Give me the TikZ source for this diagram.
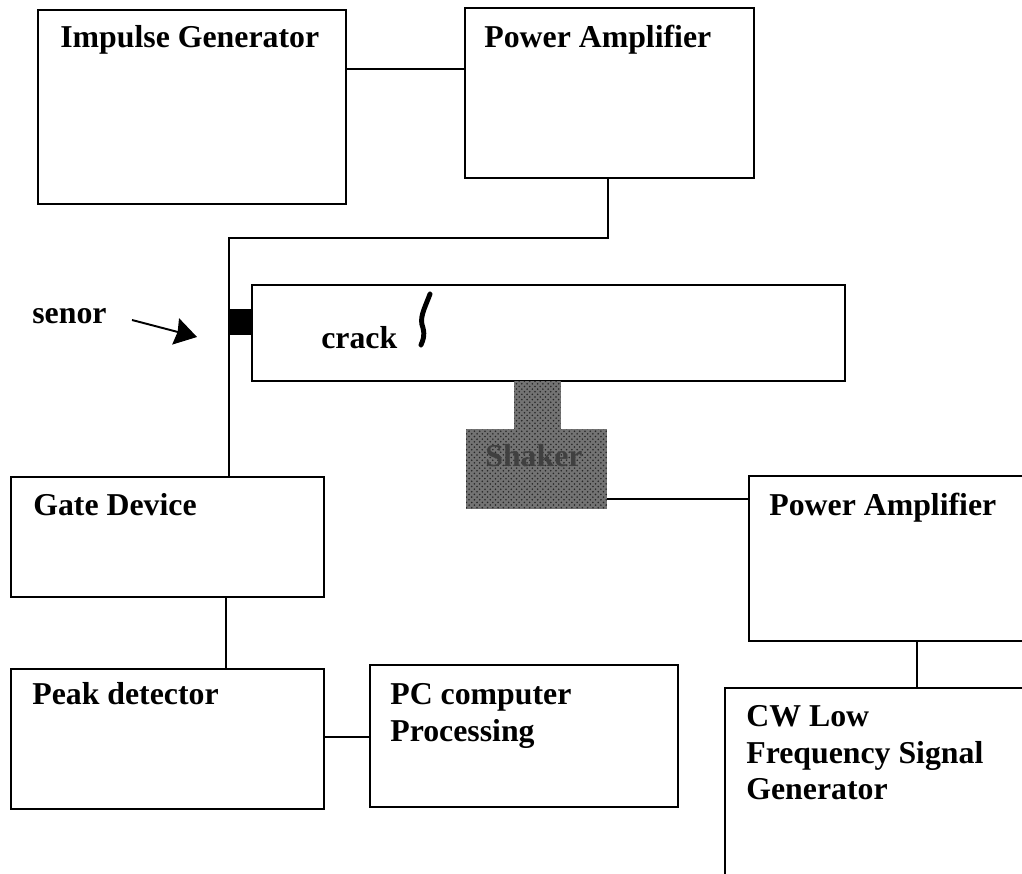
\documentclass[tikz,border=0pt]{standalone}
\usepackage{fontspec}
\setmainfont{Liberation Serif}
\usetikzlibrary{patterns,arrows.meta}

\tikzset{
  block/.style={draw,line width=1.1pt,rectangle,inner sep=0pt},
  caption/.style={inner sep=0pt,anchor=base west,align=left,
    font=\fontsize{18.1}{21}\selectfont\bfseries},
  wire/.style={line width=1.1pt},
  shaded/.style={rectangle,inner sep=0pt,preaction={fill=black!55},
    pattern=crosshatch dots,pattern color=black!85},
}

\begin{document}
\begin{tikzpicture}[x=0.02cm,y=-0.02cm]
  \useasboundingbox (0,0) rectangle (1022,874);
  \clip (0,0) rectangle (1022,874);
  % boxes
  \node[block,minimum width=6.16cm,minimum height=3.88cm] (B1) at (192,107) {};
  \node[block,minimum width=5.78cm,minimum height=3.4cm] (B2) at (609.5,93) {};
  \node[block,minimum width=11.86cm,minimum height=1.92cm] (B3) at (548.5,333) {};
  \node[block,minimum width=6.26cm,minimum height=2.4cm] (B4) at (167.5,537) {};
  \node[block,minimum width=6.26cm,minimum height=2.8cm] (B5) at (167.5,739) {};
  \node[block,minimum width=6.16cm,minimum height=2.84cm] (B6) at (524,736) {};
  \node[block,minimum width=7.02cm,minimum height=3.3cm] (B7) at (924.5,558.5) {};
  \node[block,minimum width=7.5cm,minimum height=5.24cm] (B8) at (912.5,819) {};
  % sensor and shaker
  \node[fill=black,inner sep=0pt,minimum width=0.48cm,minimum height=0.52cm] (S1) at (240,322) {};
  \node[shaded,minimum width=0.94cm,minimum height=0.98cm] (S2) at (537.5,405.5) {};
  \node[shaded,minimum width=2.82cm,minimum height=1.6cm] (S3) at (536.5,469) {};
  % texts
  \node[caption] (T1) at (60,48) {Impulse Generator};
  \node[caption] (T2) at (484,48) {Power Amplifier};
  \node[caption] (T3) at (32,324) {senor};
  \node[caption] (T4) at (321,349) {crack};
  \node[caption,text=black!75] (T5) at (485,467) {Shaker};
  \node[caption] (T6) at (33,516) {Gate Device};
  \node[caption] (T7) at (769,516) {Power Amplifier};
  \node[caption] (T8) at (32,705) {Peak detector};
  \node[caption] (T9) at (390,705) {PC computer};
  \node[caption] (T10) at (390,742) {Processing};
  \node[caption] (T11) at (746,727) {CW Low};
  \node[caption] (T12) at (746,764) {Frequency Signal};
  \node[caption] (T13) at (746,800) {Generator};
  % connectors
  \coordinate (c1) at (400,69);
  \coordinate (c2) at (229,238);
  \coordinate (c3) at (226,630);
  \coordinate (c4) at (680,499);
  \coordinate (c5) at (917,660);
  \coordinate (c6) at (608,210);
  \coordinate (c7) at (340,737);
  \draw[wire] (c1 -| B1.east) -- (c1 -| B2.west);
  \draw[wire] (c6 |- B2.south) |- (c2) -- (c2 |- B4.north);
  \draw[wire] (c3 |- B4.south) -- (c3 |- B5.north);
  \draw[wire] (c7 -| B5.east) -- (c7 -| B6.west);
  \draw[wire] (c4 -| S3.east) -- (c4 -| B7.west);
  \draw[wire] (c5 |- B7.south) -- (c5 |- B8.north);
  % arrow and crack
  \coordinate (A1) at (132,320);
  \coordinate (A2) at (197,337);
  \draw[wire,-{Stealth[length=22*0.02cm,width=27*0.02cm,inset=2*0.02cm]}] (A1) -- (A2);
  \draw[line width=2.8pt,line cap=round] (430,294) .. controls (424,310) and (419,318) .. (423,328) .. controls (425,336) and (423,340) .. (421,345);
\end{tikzpicture}
\end{document}
